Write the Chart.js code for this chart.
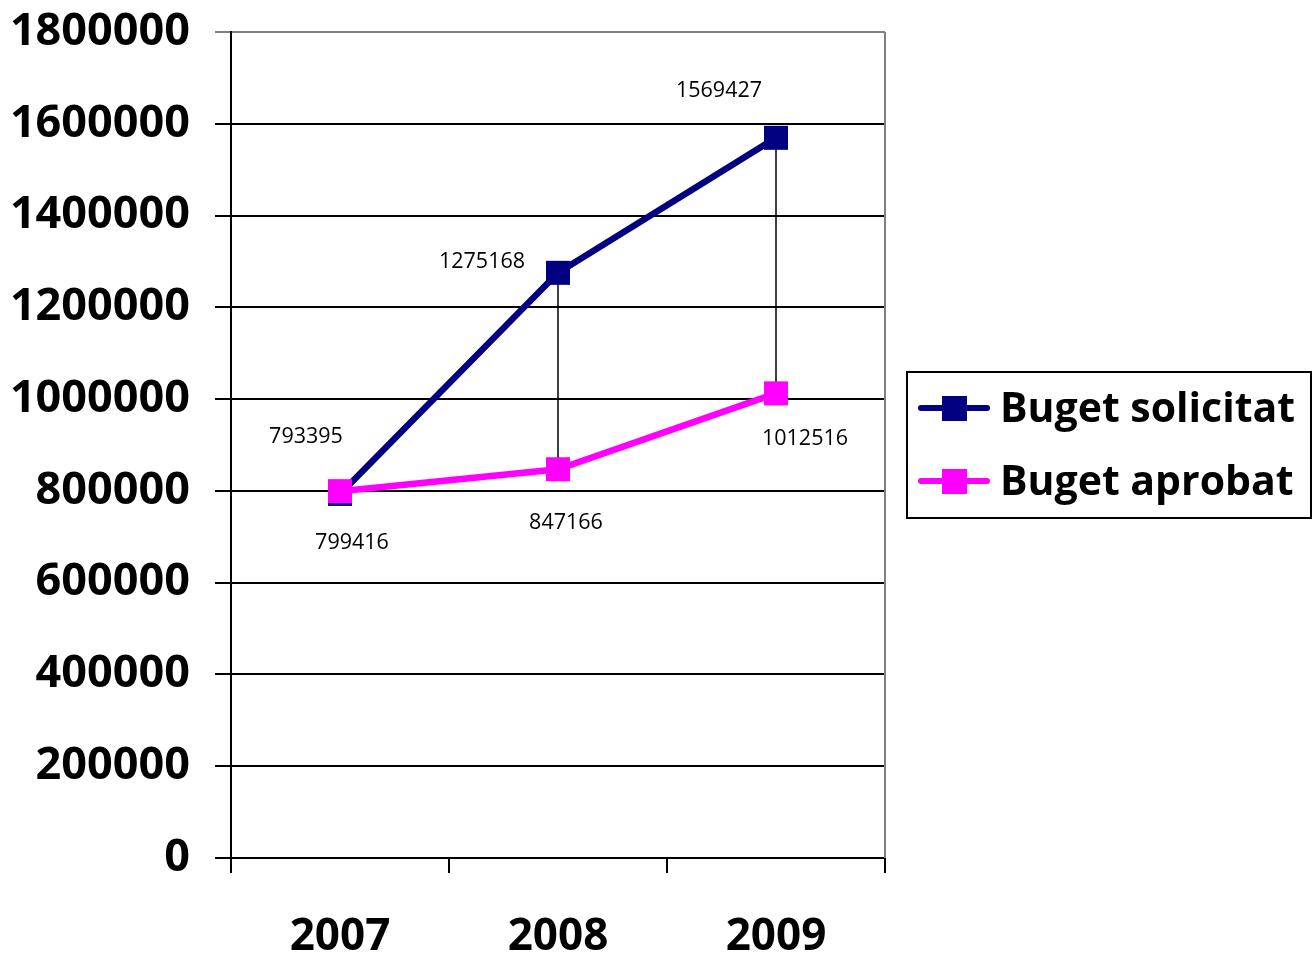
<!DOCTYPE html>
<html>
<head>
<meta charset="utf-8">
<script src="https://cdn.jsdelivr.net/npm/chart.js@4.4.1/dist/chart.umd.min.js"></script>
<style>
  html, body { margin: 0; padding: 0; background: #fff; }
  #wrap { width: 1313px; height: 958px; position: relative; }
</style>
</head>
<body>
<div id="wrap"><canvas id="c" width="1313" height="958"></canvas></div>
<script>
// chart data
const years = ["2007", "2008", "2009"];
const bugetSolicitat = [793395, 1275168, 1569427];
const bugetAprobat = [799416, 847166, 1012516];
const yTicks = [0, 200000, 400000, 600000, 800000, 1000000, 1200000, 1400000, 1600000, 1800000];

const NAVY = "#000080";
const MAGENTA = "#FF00FF";
const FONT = "'Open Sans', 'DejaVu Sans', sans-serif";

// where each value label sits relative to its point (as in the original)
const labelOffsets = [
  [[-34, -57], [-76, -11], [-57, -47]], // solicitat
  [[12, 52], [8, 54], [29, 46]],         // aprobat
];

// hi-low lines between the two series + gray right border of plot
const dropLines = {
  id: "dropLines",
  beforeDatasetsDraw(chart) {
    const { ctx, chartArea, scales } = chart;
    ctx.save();
    ctx.strokeStyle = "#808080";
    ctx.lineWidth = 2;
    ctx.beginPath();
    ctx.moveTo(chartArea.right, chartArea.top);
    ctx.lineTo(chartArea.right, chartArea.bottom);
    ctx.stroke();

    ctx.strokeStyle = "#000";
    ctx.lineWidth = 1.5;
    years.forEach((y, i) => {
      const x = scales.x.getPixelForValue(i);
      ctx.beginPath();
      ctx.moveTo(x, scales.y.getPixelForValue(bugetSolicitat[i]));
      ctx.lineTo(x, scales.y.getPixelForValue(bugetAprobat[i]));
      ctx.stroke();
    });
    ctx.restore();
  },
};

const valueLabels = {
  id: "valueLabels",
  afterDatasetsDraw(chart) {
    const { ctx } = chart;
    ctx.save();
    ctx.font = "21.5px " + FONT;
    ctx.fillStyle = "#000";
    ctx.textAlign = "center";
    ctx.textBaseline = "middle";
    [bugetSolicitat, bugetAprobat].forEach((arr, d) => {
      const meta = chart.getDatasetMeta(d);
      meta.data.forEach((pt, i) => {
        const off = labelOffsets[d][i];
        ctx.fillText(String(arr[i]), pt.x + off[0], pt.y + off[1]);
      });
    });
    ctx.restore();
  },
};

// boxed legend on the right, like the Excel one
const boxLegend = {
  id: "boxLegend",
  afterDraw(chart) {
    const { ctx } = chart;
    const items = [
      { text: "Buget solicitat", color: NAVY },
      { text: "Buget aprobat", color: MAGENTA },
    ];
    ctx.save();
    ctx.strokeStyle = "#000";
    ctx.lineWidth = 2;
    ctx.strokeRect(907, 372, 404, 146);
    items.forEach((it, i) => {
      const y = 408 + i * 73;
      ctx.strokeStyle = it.color;
      ctx.lineWidth = 6;
      ctx.lineCap = "round";
      ctx.beginPath();
      ctx.moveTo(921, y);
      ctx.lineTo(987, y);
      ctx.stroke();
      ctx.fillStyle = it.color;
      ctx.fillRect(942, y - 12, 25, 25);
      ctx.fillStyle = "#000";
      ctx.font = "bold 41px " + FONT;
      ctx.textBaseline = "middle";
      ctx.fillText(it.text, 1000, y + 2);
    });
    ctx.restore();
  },
};

new Chart(document.getElementById("c"), {
  type: "line",
  data: {
    labels: years,
    datasets: [
      {
        label: "Buget solicitat",
        data: bugetSolicitat,
        borderColor: NAVY,
        backgroundColor: NAVY,
        borderWidth: 6.5,
        pointStyle: "rect",
        pointRadius: 17,
        pointBorderWidth: 0,
        order: 1,
      },
      {
        label: "Buget aprobat",
        data: bugetAprobat,
        borderColor: MAGENTA,
        backgroundColor: MAGENTA,
        borderWidth: 6.5,
        pointStyle: "rect",
        pointRadius: 17,
        pointBorderWidth: 0,
        order: 0,
      },
    ],
  },
  options: {
    responsive: false,
    animation: false,
    devicePixelRatio: 1,
    layout: { padding: { top: 32, right: 428, bottom: 0, left: 0 } },
    plugins: {
      legend: { display: false },
      tooltip: { enabled: false },
    },
    scales: {
      x: {
        offset: true,
        grid: {
          offset: true,
          drawOnChartArea: false,
          color: "#000",
          lineWidth: 2,
          tickLength: 15,
        },
        border: { color: "#000", width: 2 },
        ticks: {
          color: "#000",
          padding: 38,
          font: { family: FONT, size: 44, weight: "bold" },
        },
        afterFit(scale) { scale.height = 100; },
      },
      y: {
        min: 0,
        max: 1800000,
        afterBuildTicks(scale) {
          scale.ticks = yTicks.map(v => ({ value: v }));
        },
        grid: {
          color: ctx => (ctx.tick && ctx.tick.value === 1800000 ? "#808080" : "#000"),
          lineWidth: 2,
          tickLength: 16,
        },
        border: { color: "#000", width: 2 },
        ticks: {
          color: "#000",
          padding: 25,
          font: { family: FONT, size: 45, weight: "bold" },
          callback: v => String(v),
        },
        afterFit(scale) {
          scale.width = 231;
          scale.paddingTop = 0;
          scale.paddingBottom = 0;
        },
      },
    },
  },
  plugins: [dropLines, valueLabels, boxLegend],
});
</script>
</body>
</html>
